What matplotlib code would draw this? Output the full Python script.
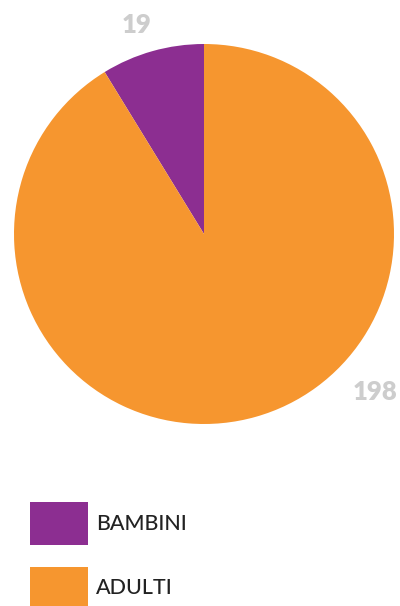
import matplotlib
matplotlib.use("Agg")
import matplotlib.pyplot as plt
from matplotlib.patches import Rectangle

categories = ["BAMBINI", "ADULTI"]
values = [19, 198]
colors = ["#8C2E91", "#F6962F"]

W, H = 400, 606
fig = plt.figure(figsize=(W / 100, H / 100), dpi=100)
fig.patch.set_facecolor("white")

# pie axes: center (204,234), radius 190 px
cx, cy, r = 204, 234, 190
ax = fig.add_axes([(cx - r) / W, (H - cy - r) / H, 2 * r / W, 2 * r / H])
ax.pie(values, colors=colors, startangle=90, counterclock=True,
       wedgeprops=dict(linewidth=0))
ax.set_xlim(-1, 1)
ax.set_ylim(-1, 1)
ax.set_aspect("equal")
ax.axis("off")

label_font = ["Lato", "DejaVu Sans"]
label_pos = [(137, 25), (375, 392)]
for v, (px, py) in zip(values, label_pos):
    fig.text(px / W, 1 - py / H, str(v), ha="center", va="center",
             fontsize=18.5, fontweight="heavy", color="#CDCDCD", family=label_font)

# legend
leg_rows = [(502, 545), (567, 608)]
for cat, col, (y0, y1) in zip(categories, colors, leg_rows):
    fig.patches.append(Rectangle((30 / W, 1 - y1 / H), 58 / W, (y1 - y0) / H,
                                 transform=fig.transFigure, facecolor=col,
                                 edgecolor="none"))
    fig.text(96 / W, 1 - ((y0 + y1) / 2 + 1) / H, cat, ha="left", va="center",
             fontsize=15.5, fontweight="medium", color="#222222", family=label_font)

fig.savefig("out.png", dpi=100, facecolor="white")
